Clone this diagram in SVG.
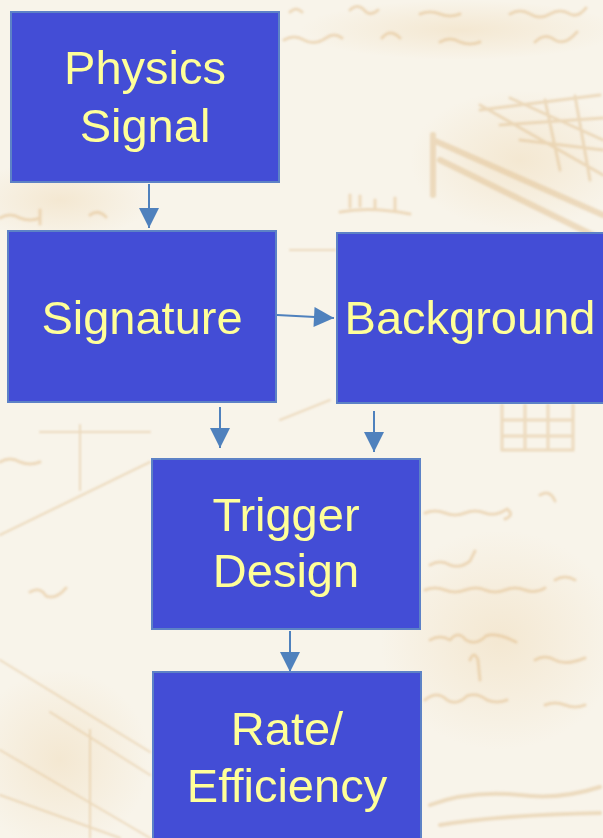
<svg xmlns="http://www.w3.org/2000/svg" width="603" height="838" viewBox="0 0 603 838">
  <defs>
    <style>
      .box { fill: #434dd6; stroke: #5d82c6; stroke-width: 2; }
      .label { font-family: "Liberation Sans", Arial, sans-serif; font-size: 47px; fill: #ffff99; text-anchor: middle; }
      .conn { stroke: #4f81bd; stroke-width: 2; fill: none; }
      .sketch { stroke: #dcb47c; fill: none; stroke-linecap: round; opacity: 0.4; }
      .ink { stroke: #d9a866; fill: none; stroke-linecap: round; stroke-linejoin: round; opacity: 0.35; }
    </style>
    <filter id="soft" x="-5%" y="-5%" width="110%" height="110%">
      <feGaussianBlur stdDeviation="1.3"/>
    </filter>
    <radialGradient id="stain" cx="50%" cy="50%" r="50%">
      <stop offset="0" stop-color="#efd9b4" stop-opacity="0.45"/>
      <stop offset="1" stop-color="#efd9b4" stop-opacity="0"/>
    </radialGradient>
    <marker id="arrow" viewBox="0 0 20 20" refX="20" refY="10" markerWidth="22" markerHeight="20" markerUnits="userSpaceOnUse" orient="auto">
      <path d="M0,0 L20,10 L0,20 Z" fill="#4f81bd"/>
    </marker>
  </defs>

  <!-- parchment backdrop -->
  <rect x="0" y="0" width="603" height="838" fill="#f8f4ea"/>
  <g id="backdrop-stains">
    <ellipse cx="60" cy="200" rx="90" ry="40" fill="url(#stain)"/>
    <ellipse cx="520" cy="160" rx="110" ry="70" fill="url(#stain)"/>
    <ellipse cx="500" cy="640" rx="120" ry="110" fill="url(#stain)"/>
    <ellipse cx="60" cy="760" rx="90" ry="90" fill="url(#stain)"/>
    <ellipse cx="460" cy="30" rx="160" ry="30" fill="url(#stain)"/>
  </g>
  <g id="backdrop-sketch" filter="url(#soft)">
    <!-- handwriting strokes along the top -->
    <path class="ink" stroke-width="3" d="M290,12 q6,-6 12,0 M350,10 q8,-8 16,2 q6,4 12,-2 M420,14 q10,-4 20,0 q10,4 20,0 M510,14 q10,-6 20,0 q10,6 20,0 q10,-6 20,0 q8,4 16,-6"/>
    <path class="ink" stroke-width="3" d="M284,40 q10,-6 20,0 q10,6 22,-2 q8,-6 16,0 M382,38 q8,-10 18,0 M440,42 q10,-6 20,0 q10,4 20,0 M535,42 q10,-10 20,-2 q10,6 22,-8"/>
    <!-- timber frame, upper right -->
    <path class="sketch" stroke-width="6" d="M433,135 L433,195 M433,140 L603,215 M440,160 L603,240"/>
    <path class="sketch" stroke-width="3" d="M480,105 L603,175 M510,98 L603,140 M480,110 L600,95 M500,125 L603,118 M520,140 L603,150 M545,100 L560,170 M575,96 L590,180"/>
    <path class="ink" stroke-width="3" d="M350,195 l0,12 M360,196 l0,10 M375,200 l0,8 M395,198 l0,12 M340,212 q30,-6 70,2"/>
    <!-- small grid under the background box -->
    <path class="sketch" stroke-width="3" d="M502,405 L502,450 L573,450 L573,405 M502,420 L573,420 M502,436 L573,436 M525,405 L525,450 M548,405 L548,450"/>
    <!-- handwriting, right margin -->
    <path class="ink" stroke-width="3" d="M425,513 q10,-4 20,0 q10,4 20,0 q10,-4 20,0 q10,4 22,-4 q8,6 -2,10 M540,495 q10,-6 15,6"/>
    <path class="ink" stroke-width="3" d="M430,565 q10,-6 20,0 q10,4 20,-4 l5,-10 M555,580 q10,-6 20,0 M425,590 q10,-4 20,0 q10,4 20,0 q12,-4 20,0 q10,4 20,0 q10,-4 20,0 q10,4 20,-2"/>
    <path class="ink" stroke-width="3" d="M430,640 q10,-6 20,0 q8,-10 16,0 q10,6 20,-4 q10,-4 30,6 M470,660 q4,-10 8,0 l2,20 M535,660 q10,-6 20,0 q10,6 30,-2"/>
    <path class="ink" stroke-width="3" d="M425,700 q12,-10 22,0 q10,6 20,-4 q10,-4 20,4 q10,4 20,0 M545,705 q10,-4 20,0 q10,4 20,0"/>
    <path class="sketch" stroke-width="4" d="M430,805 q40,-15 90,-10 q40,5 80,-8 M440,825 q60,-10 160,-12"/>
    <!-- left side ruled construction lines -->
    <path class="sketch" stroke-width="2" d="M0,535 L150,462 M40,432 L150,432 M80,425 L80,490 M0,660 L150,752 M50,712 L150,775 M0,750 L150,838 M90,730 L90,838 M0,795 L120,838"/>
    <path class="ink" stroke-width="3" d="M0,462 q10,-6 20,0 q10,4 20,0 M30,592 q10,-6 16,4 q10,4 20,-8 M0,218 q10,-6 20,0 q10,4 20,0 M40,210 l0,14 M90,215 q8,-6 16,2"/>
    <path class="sketch" stroke-width="2" d="M280,420 L330,400 M290,250 L335,250"/>
  </g>

  <g id="connectors">
    <line class="conn" x1="149" y1="184" x2="149" y2="228" marker-end="url(#arrow)"/>
    <line class="conn" x1="277" y1="315" x2="334" y2="318" marker-end="url(#arrow)"/>
    <line class="conn" x1="220" y1="407" x2="220" y2="448" marker-end="url(#arrow)"/>
    <line class="conn" x1="374" y1="411" x2="374" y2="452" marker-end="url(#arrow)"/>
    <line class="conn" x1="290" y1="631" x2="290" y2="672" marker-end="url(#arrow)"/>
  </g>

  <g id="physics-signal">
    <rect class="box" x="11" y="12" width="268" height="170"/>
    <text class="label" x="145" y="84">Physics</text>
    <text class="label" x="145" y="142">Signal</text>
  </g>

  <g id="signature">
    <rect class="box" x="8" y="231" width="268" height="171"/>
    <text class="label" x="142" y="334">Signature</text>
  </g>

  <g id="background">
    <rect class="box" x="337" y="233" width="280" height="170"/>
    <text class="label" x="470" y="334">Background</text>
  </g>

  <g id="trigger-design">
    <rect class="box" x="152" y="459" width="268" height="170"/>
    <text class="label" x="286" y="531">Trigger</text>
    <text class="label" x="286" y="587">Design</text>
  </g>

  <g id="rate-efficiency">
    <rect class="box" x="153" y="672" width="268" height="180"/>
    <text class="label" x="287" y="745">Rate/</text>
    <text class="label" x="287" y="802">Efficiency</text>
  </g>
</svg>
